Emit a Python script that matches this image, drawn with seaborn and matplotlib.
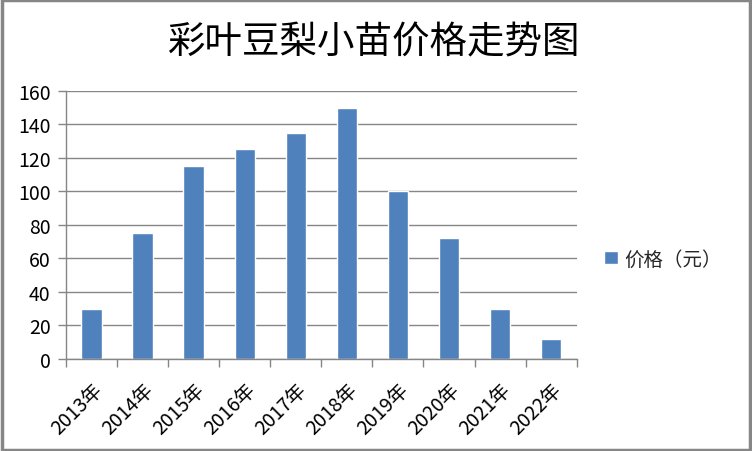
import seaborn as sns
import matplotlib.pyplot as plt
import pandas as pd
from matplotlib.patches import Rectangle


# Data

years = ["2013年", "2014年", "2015年", "2016年", "2017年",
         "2018年", "2019年", "2020年", "2021年", "2022年"]
prices = [30, 75, 115, 125, 135, 150, 100, 72, 30, 12]
series_name = "价格（元）"
title = "彩叶豆梨小苗价格走势图"

df = pd.DataFrame({"年份": years, "价格": prices})


# Style

sns.set_theme(style="white")
plt.rcParams["font.family"] = ["Noto Sans CJK SC", "DejaVu Sans"]

fig = plt.figure(figsize=(7.52, 4.52), dpi=100)
ax = fig.add_axes([0.0878, 0.2035, 0.679, 0.5935])

sns.barplot(data=df, x="年份", y="价格", color="#4F81BD", width=0.4,
            saturation=1, label=series_name, ax=ax)

ax.set_ylim(0, 160)
ax.set_yticks(range(0, 161, 20))
ax.set_xlim(-0.5, len(years) - 0.5)
ax.set_xlabel("")
ax.set_ylabel("")

grid_color = "#868686"
ax.yaxis.grid(True, color=grid_color, linewidth=1)
ax.set_axisbelow(True)
for side in ["top", "right"]:
    ax.spines[side].set_visible(False)
for side in ["left", "bottom"]:
    ax.spines[side].set_color(grid_color)
    ax.spines[side].set_linewidth(1)

# y ticks on the left, x ticks between categories
ax.tick_params(axis="y", which="major", left=True, length=6, width=1,
               color=grid_color, labelsize=14, pad=5, labelcolor="black")
ax.set_xticks([i for i in range(len(years))])
ax.set_xticklabels(years, rotation=45, ha="right", rotation_mode="anchor")
ax.tick_params(axis="x", which="major", bottom=False, labelsize=14,
               pad=8, labelcolor="black")
ax.set_xticks([i - 0.5 for i in range(len(years) + 1)], minor=True)
ax.tick_params(axis="x", which="minor", bottom=True, length=6, width=1,
               color=grid_color)

fig.text(0.497, 0.905, title, ha="center", va="center", fontsize=27,
         color="black")

ax.legend(loc="center left", bbox_to_anchor=(1.02, 0.373), frameon=False,
          fontsize=14, handlelength=0.7, handleheight=0.7, handletextpad=0.3)

# Outer chart border
fig.patches.append(Rectangle((0.002, 0.003), 0.995, 0.994,
                             transform=fig.transFigure, fill=False,
                             edgecolor="#868686", linewidth=2.5))

fig.savefig("out.png", dpi=100)
